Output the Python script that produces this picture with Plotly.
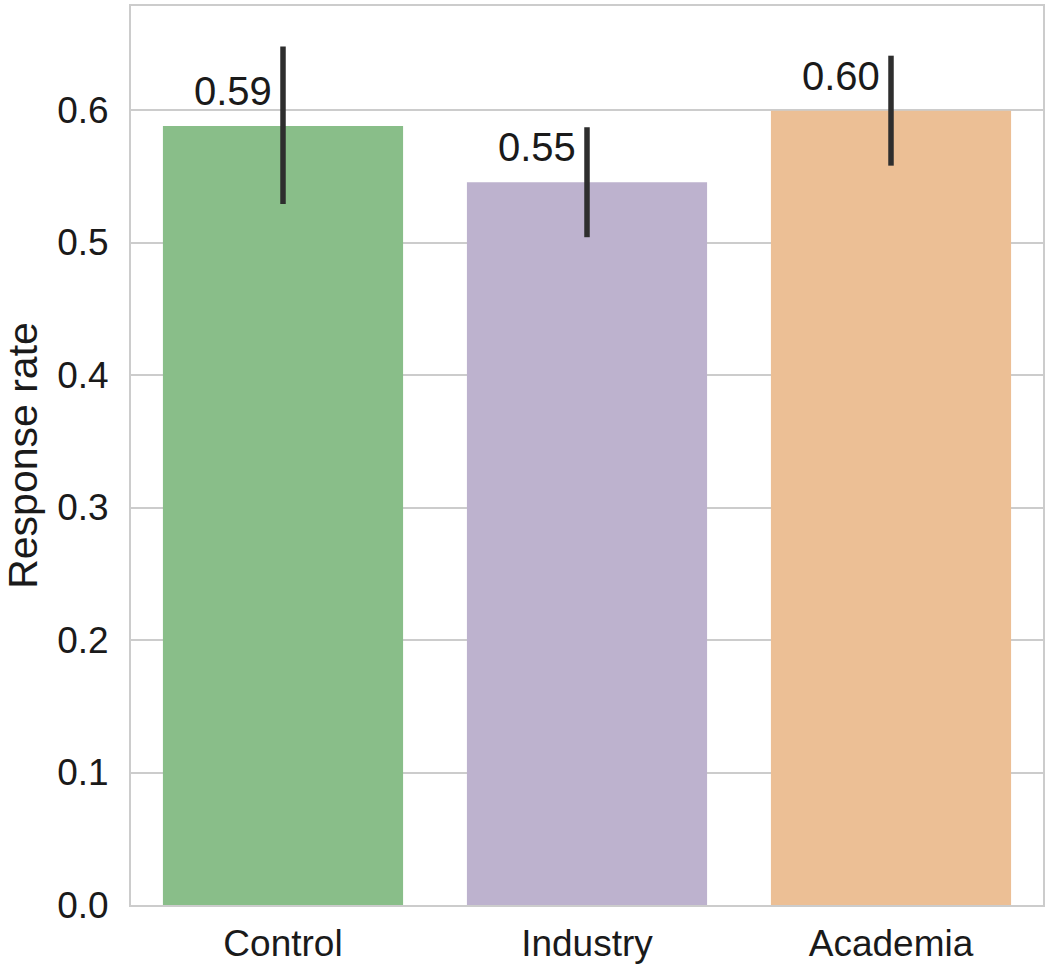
import plotly.graph_objects as go

categories = ["Control", "Industry", "Academia"]
rates = [0.588, 0.5455, 0.5995]
ci_low = [0.529, 0.504, 0.558]
ci_high = [0.648, 0.587, 0.641]
labels = ["0.59", "0.55", "0.60"]
colors = ["#89be89", "#bdb2ce", "#ecbf95"]

err_plus = [h - v for h, v in zip(ci_high, rates)]
err_minus = [v - l for v, l in zip(rates, ci_low)]

FONT = "Liberation Sans, Arial, sans-serif"

fig = go.Figure()
fig.add_trace(go.Bar(
    x=categories, y=rates,
    marker=dict(color=colors, line=dict(width=0)),
    width=0.79,
    error_y=dict(type="data", symmetric=False, array=err_plus, arrayminus=err_minus,
                 color="#2e2e2e", thickness=5.5, width=0),
    showlegend=False,
))

for c, v, t in zip(categories, rates, labels):
    fig.add_annotation(x=c, y=v, text=t, showarrow=False,
                       xanchor="right", yanchor="bottom", xshift=-9, yshift=11,
                       font=dict(family=FONT, size=40, color="#1a1a1a"))

fig.update_layout(
    width=1050, height=966,
    margin=dict(l=131, r=7, t=6, b=61),
    paper_bgcolor="white", plot_bgcolor="white",
    font=dict(family=FONT, size=37, color="#1a1a1a"),
    bargap=0.2,
)
fig.update_xaxes(
    range=[-0.5, 2.5], showgrid=False, showline=True, mirror=True, automargin=False,
    linecolor="#cccccc", linewidth=2, ticks="outside", ticklen=5, tickcolor="rgba(0,0,0,0)",
    tickfont=dict(size=37),
)
fig.update_yaxes(
    range=[0, 0.6785], tickvals=[0, 0.1, 0.2, 0.3, 0.4, 0.5, 0.6],
    ticktext=["0.0", "0.1", "0.2", "0.3", "0.4", "0.5", "0.6"],
    showgrid=True, gridcolor="#cccccc", gridwidth=2, zeroline=False, automargin=False,
    showline=True, mirror=True, linecolor="#cccccc", linewidth=2,
    ticks="outside", ticklen=13, tickcolor="rgba(0,0,0,0)",
    tickfont=dict(size=37),
    title=dict(text="Response rate", font=dict(size=41), standoff=12),
)

fig.write_html("out.html")
